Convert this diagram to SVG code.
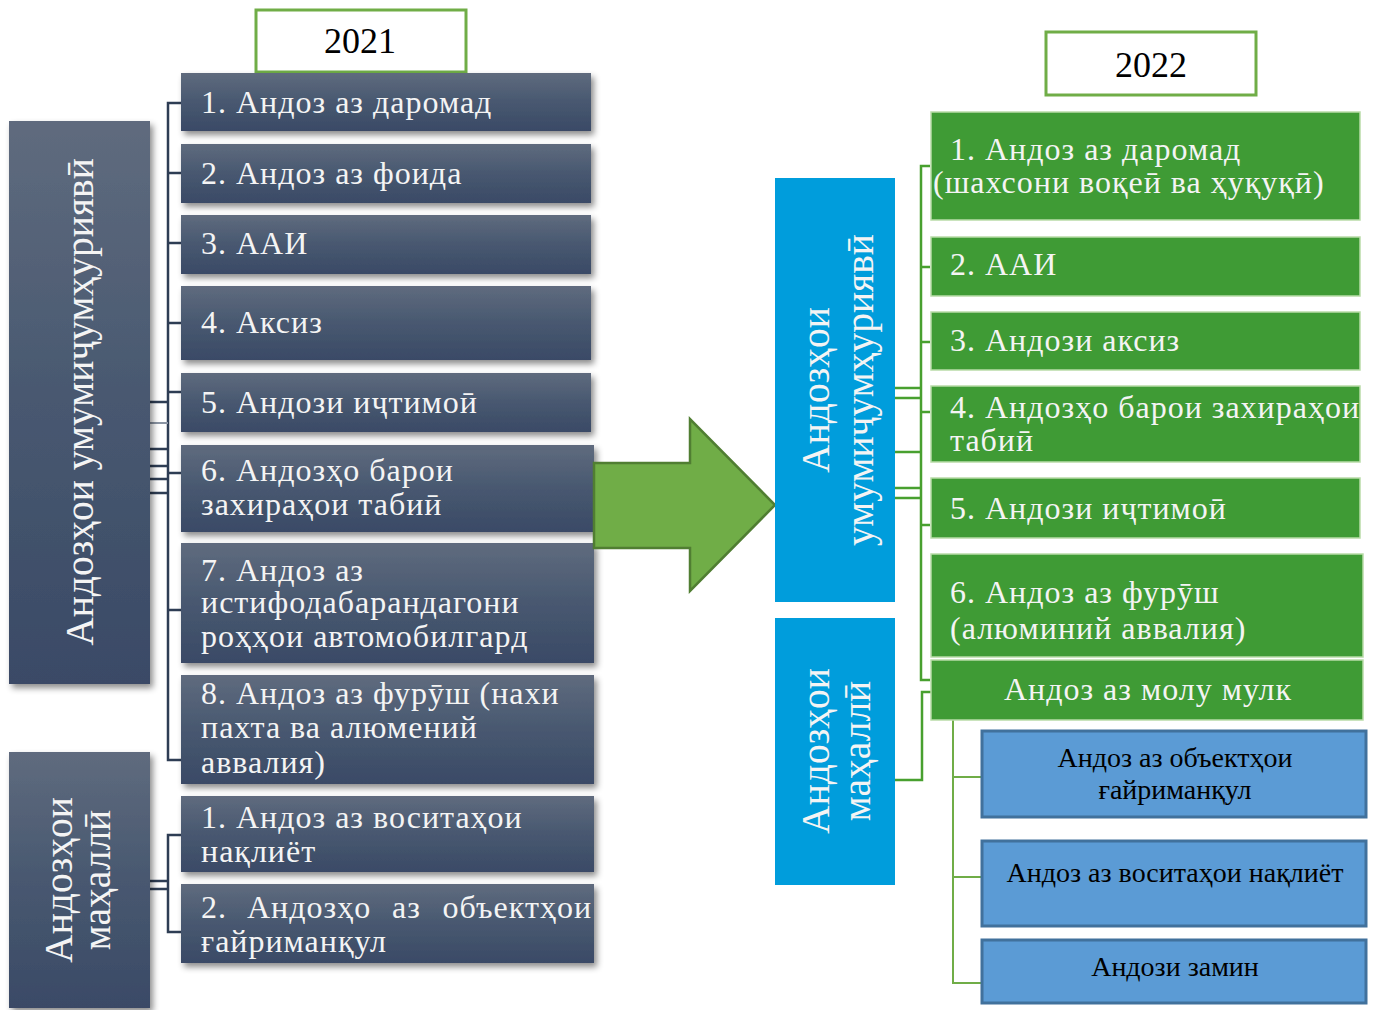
<svg xmlns="http://www.w3.org/2000/svg" width="1376" height="1010" viewBox="0 0 1376 1010">
<defs>
<linearGradient id="dk" x1="0" y1="0" x2="0" y2="1">
<stop offset="0" stop-color="#5f6b7e"/>
<stop offset="0.5" stop-color="#485870"/>
<stop offset="1" stop-color="#3a4a66"/>
</linearGradient>
<filter id="sh" x="-10%" y="-10%" width="125%" height="130%">
<feDropShadow dx="3" dy="4" stdDeviation="3" flood-color="#000" flood-opacity="0.45"/>
</filter>
<style>
.dk{fill:url(#dk);filter:url(#sh)}
.gr{fill:#3f9b35;stroke:#b9dca8;stroke-width:1.5}
.bl{fill:#009ddc}
.lb{fill:#5b9bd5;stroke:#41719c;stroke-width:3}
.yr{fill:#fff;stroke:#70ad47;stroke-width:3}
.t{font-family:"Liberation Serif","DejaVu Serif",serif;fill:#f4f4f4}
.l{font-size:32px;letter-spacing:1px}
.k{font-family:"Liberation Serif","DejaVu Serif",serif;fill:#000}
.s{font-size:28px}
.cl{fill:none;stroke:#2e3d54;stroke-width:2.5}
.cg{fill:none;stroke:#48a02f;stroke-width:2.5}
.cc{fill:none;stroke:#70ad47;stroke-width:2}
</style>
</defs>
<rect width="1376" height="1010" fill="#fff"/>

<g id="connectors">
<path class="cl" d="M181,103 H168 V760 H181"/>
<path class="cl" d="M168,173 H181 M168,243 H181 M168,323 H181 M168,392 H181 M168,473 H181 M168,610 H181"/>
<path class="cl" d="M150,402 H168 M150,449 H168 M150,466 H168 M150,479 H168 M150,493 H168"/>
<path d="M150,423 H168" stroke="#8a94a3" stroke-width="2" fill="none"/>
<path class="cl" d="M181,835 H168 V932 H181"/>
<path class="cl" d="M150,881 H168 M150,889 H168"/>
<path class="cg" d="M930,166 H921 V680 H930"/>
<path class="cg" d="M921,267 H930 M921,342 H930 M921,412 H930 M921,525 H930"/>
<path class="cg" d="M895,388 H921 M895,398 H921 M895,452 H921 M895,488 H921 M895,498 H921"/>
<path class="cg" d="M895,780 H922 V692 H931"/>
<path class="cc" d="M953,714 V983 H982 M953,777 H982 M953,877 H982"/>
</g>

<g id="y2021">
<rect class="yr" x="256" y="10" width="210" height="62"/>
<text class="k" x="360" y="53" font-size="36" text-anchor="middle">2021</text>
</g>

<g id="left-main">
<rect class="dk" x="9" y="121" width="141" height="563"/>
<text class="t" font-size="39.5" text-anchor="middle" transform="translate(93,402) rotate(-90)">Андозҳои умумиҷумҳуриявӣ</text>
</g>

<g id="left-local">
<rect class="dk" x="9" y="752" width="141" height="256"/>
<text class="t" font-size="39.5" text-anchor="middle" transform="translate(72,880) rotate(-90)"><tspan x="0" y="0">Андозҳои</tspan><tspan x="0" y="38">маҳаллӣ</tspan></text>
</g>

<g id="l1"><rect class="dk" x="181" y="73" width="410" height="58"/><text class="t l" x="201" y="113">1. Андоз аз даромад</text></g>
<g id="l2"><rect class="dk" x="181" y="144" width="410" height="59"/><text class="t l" x="201" y="184">2. Андоз аз фоида</text></g>
<g id="l3"><rect class="dk" x="181" y="215" width="410" height="59"/><text class="t l" x="201" y="254">3. ААИ</text></g>
<g id="l4"><rect class="dk" x="181" y="286" width="410" height="74"/><text class="t l" x="201" y="333">4. Аксиз</text></g>
<g id="l5"><rect class="dk" x="181" y="373" width="410" height="59"/><text class="t l" x="201" y="413">5. Андози иҷтимоӣ</text></g>
<g id="l6"><rect class="dk" x="181" y="445" width="413" height="87"/><text class="t l" x="201" y="481">6. Андозҳо барои</text><text class="t l" x="201" y="515">захираҳои табиӣ</text></g>
<g id="l7"><rect class="dk" x="181" y="543" width="413" height="120"/><text class="t l" x="201" y="581">7. Андоз аз</text><text class="t l" x="201" y="613">истифодабарандагони</text><text class="t l" x="201" y="647">роҳҳои автомобилгард</text></g>
<g id="l8"><rect class="dk" x="181" y="675" width="413" height="109"/><text class="t l" x="201" y="704">8. Андоз аз фурӯш (нахи</text><text class="t l" x="201" y="738">пахта ва алюмений</text><text class="t l" x="201" y="773">аввалия)</text></g>
<g id="l9"><rect class="dk" x="181" y="796" width="413" height="76"/><text class="t l" x="201" y="828">1. Андоз аз воситаҳои</text><text class="t l" x="201" y="862">нақлиёт</text></g>
<g id="l10"><rect class="dk" x="181" y="884" width="413" height="79"/><text class="t l" x="201" y="918">2.</text><text class="t l" x="247" y="918">Андозҳо</text><text class="t l" x="392" y="918">аз</text><text class="t l" x="592" y="918" text-anchor="end">объектҳои</text><text class="t l" x="201" y="952">ғайриманқул</text></g>

<g id="arrow">
<polygon points="594,463 690,463 690,419 775,505 690,591 690,548 594,548" fill="#70ad47" stroke="#507e32" stroke-width="2.5"/>
</g>

<g id="y2022">
<rect class="yr" x="1046" y="32" width="210" height="63"/>
<text class="k" x="1151" y="77" font-size="36" text-anchor="middle">2022</text>
</g>

<g id="right-main">
<rect class="bl" x="775" y="178" width="120" height="424"/>
<text class="t" font-size="39.5" text-anchor="middle" transform="translate(829,390) rotate(-90)"><tspan x="0" y="0">Андозҳои</tspan><tspan x="0" y="44">умумиҷумҳуриявӣ</tspan></text>
</g>

<g id="right-local">
<rect class="bl" x="775" y="618" width="120" height="267"/>
<text class="t" font-size="39.5" text-anchor="middle" transform="translate(829,751) rotate(-90)"><tspan x="0" y="0">Андозҳои</tspan><tspan x="0" y="41">маҳаллӣ</tspan></text>
</g>

<g id="r1"><rect class="gr" x="931" y="112" width="429" height="108"/><text class="t l" x="950" y="160">1. Андоз аз даромад</text><text class="t l" x="933" y="193">(шахсони воқеӣ ва ҳуқуқӣ)</text></g>
<g id="r2"><rect class="gr" x="931" y="237" width="429" height="59"/><text class="t l" x="950" y="275">2. ААИ</text></g>
<g id="r3"><rect class="gr" x="931" y="312" width="429" height="58"/><text class="t l" x="950" y="351">3. Андози аксиз</text></g>
<g id="r4"><rect class="gr" x="931" y="386" width="429" height="76"/><text class="t l" x="950" y="418">4. Андозҳо барои захираҳои</text><text class="t l" x="950" y="451">табиӣ</text></g>
<g id="r5"><rect class="gr" x="931" y="478" width="429" height="60"/><text class="t l" x="950" y="519">5. Андози иҷтимоӣ</text></g>
<g id="r6"><rect class="gr" x="931" y="554" width="432" height="103"/><text class="t l" x="950" y="603">6. Андоз аз фурӯш</text><text class="t l" x="950" y="639">(алюминий аввалия)</text></g>
<g id="r7"><rect class="gr" x="931" y="660" width="432" height="60"/><text class="t l" x="1148" y="700" text-anchor="middle">Андоз аз молу мулк</text></g>

<g id="p1"><rect class="lb" x="982" y="731" width="384" height="86"/><text class="k s" x="1175" y="767" text-anchor="middle">Андоз аз объектҳои</text><text class="k s" x="1175" y="799" text-anchor="middle">ғайриманқул</text></g>
<g id="p2"><rect class="lb" x="982" y="841" width="384" height="85"/><text class="k s" x="1175" y="882" text-anchor="middle">Андоз аз воситаҳои нақлиёт</text></g>
<g id="p3"><rect class="lb" x="982" y="940" width="384" height="63"/><text class="k s" x="1175" y="976" text-anchor="middle">Андози замин</text></g>
</svg>
